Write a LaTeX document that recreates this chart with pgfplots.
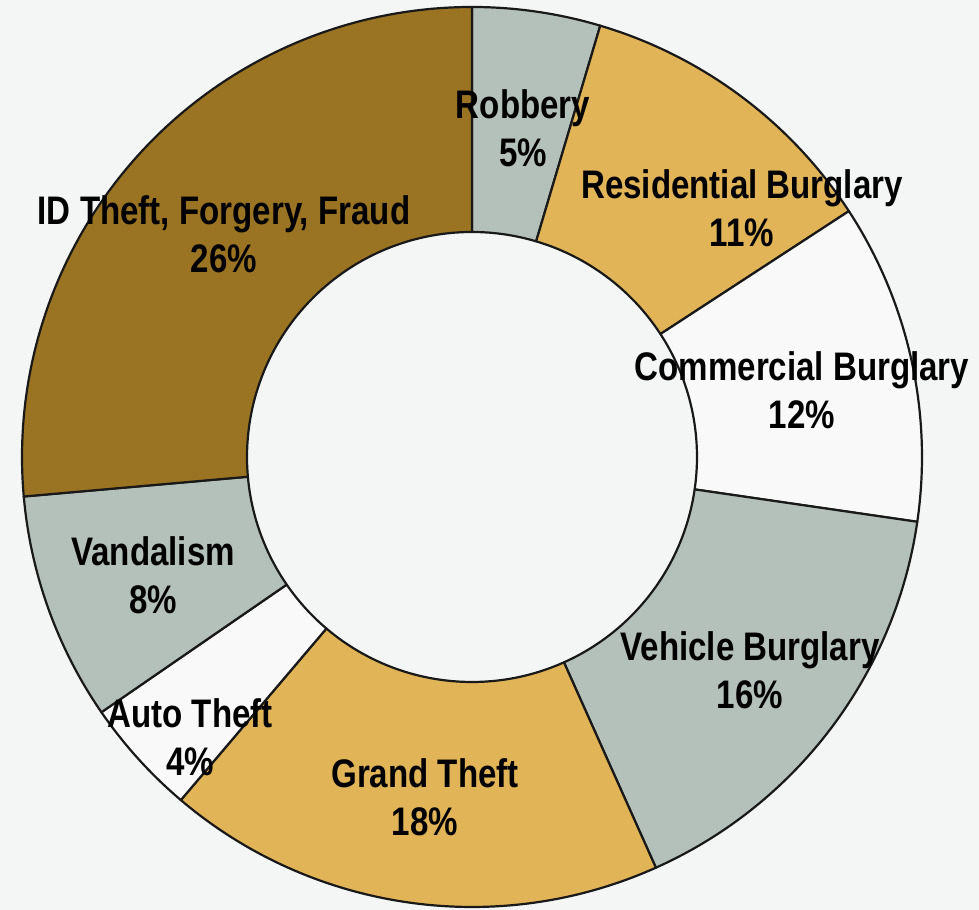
\documentclass[border=0pt]{standalone}
\usepackage{pgfplots}
\pgfplotsset{compat=1.18}
\usepackage{pgfplotstable}
\usepackage{fontspec}
\setmainfont{Liberation Sans}[FakeStretch=0.83]

\definecolor{bgc}{HTML}{F4F6F6}
\definecolor{sage}{HTML}{B4C0BA}
\definecolor{gold}{HTML}{E0B457}
\definecolor{bronze}{HTML}{9B7423}
\definecolor{paper}{HTML}{F9F9F9}

% share (%), fill, label centre in picture pixels (y down)
\pgfplotstableread[col sep=semicolon]{
name;value;fillc;lx;ly
Robbery;4.6;sage;523;128
Residential Burglary;11.2;gold;742;208
Commercial Burglary;11.5;paper;802;390
Vehicle Burglary;16.0;sage;750;670
Grand Theft;17.9;gold;425;797
Auto Theft;4.2;paper;190;737
Vandalism;8.2;sage;153;575
ID Theft, Forgery, Fraud;26.4;bronze;224;234
}\slices

\begin{document}
\begin{tikzpicture}
\begin{axis}[
    width=979bp, height=910bp, scale only axis,
    xmin=0, xmax=979, ymin=0, ymax=910,
    hide axis, clip=false,
    /pgf/number format/assume math mode=true,
]
\pgfplotsextra{
  \fill[bgc] (axis cs:0,0) rectangle (axis cs:979,910);
  \def\cx{472}\def\cy{453}
  \pgfmathsetmacro\cum{0}
  \pgfplotsforeachungrouped \i in {0,...,7}{
    \pgfplotstablegetelem{\i}{value}\of\slices \let\sval\pgfplotsretval
    \pgfplotstablegetelem{\i}{fillc}\of\slices \let\scol\pgfplotsretval
    \pgfmathsetmacro\aa{90-3.6*\cum}
    \pgfmathsetmacro\cum{\cum+\sval}
    \pgfmathsetmacro\ab{90-3.6*\cum}
    \pgfmathsetmacro\ix{\cx+225*cos(\ab)}
    \pgfmathsetmacro\iy{\cy+225*sin(\ab)}
    \filldraw[fill=\scol, draw=black!90, line width=2.2bp, line join=round]
      (axis cs:\cx,\cy) ++(\aa:450bp)
      arc[start angle=\aa, end angle=\ab, radius=450bp]
      -- (axis cs:\ix,\iy)
      arc[start angle=\ab, end angle=\aa, radius=225bp] -- cycle;
  }
  \pgfplotsforeachungrouped \i in {0,...,7}{
    \pgfplotstablegetelem{\i}{name}\of\slices \let\sname\pgfplotsretval
    \pgfplotstablegetelem{\i}{value}\of\slices \let\sval\pgfplotsretval
    \pgfplotstablegetelem{\i}{lx}\of\slices \let\lx\pgfplotsretval
    \pgfplotstablegetelem{\i}{ly}\of\slices \let\ly\pgfplotsretval
    \pgfmathsetmacro\ly{910-\ly}
    \node[align=center, font=\fontsize{40}{48}\selectfont\bfseries, inner sep=0pt]
      at (axis cs:\lx,\ly) {\sname\\\pgfmathprintnumber[fixed,precision=0]{\sval}\%};
  }
}
\end{axis}
\pgfresetboundingbox
\path (current axis.south west) rectangle (current axis.north east);
\end{tikzpicture}
\end{document}
